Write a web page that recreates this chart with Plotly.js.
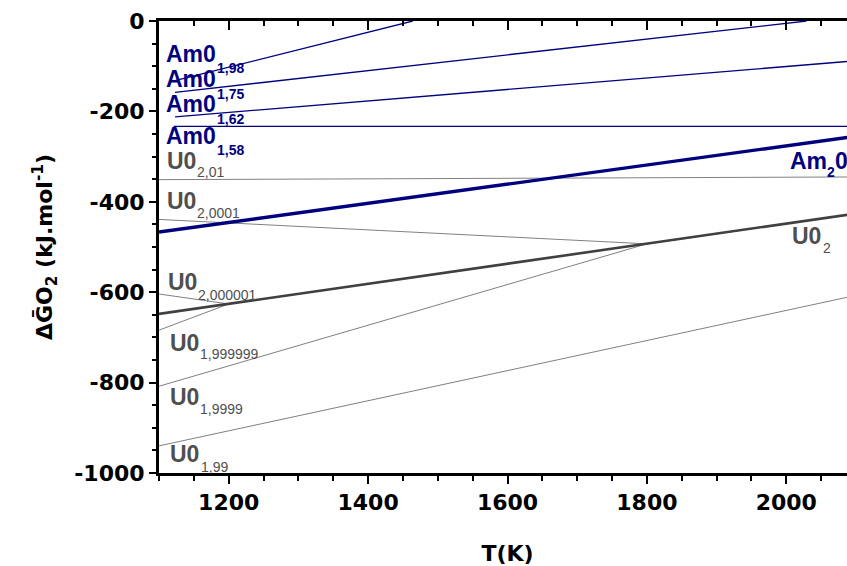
<!DOCTYPE html>
<html>
<head>
<meta charset="utf-8">
<script src="https://cdn.plot.ly/plotly-3.0.1.min.js"></script>
<style>
  html, body { margin: 0; padding: 0; overflow: hidden; background: #fff; }
  #chart { width: 870px; height: 566px; }
</style>
</head>
<body>
<div id="chart"></div>
<script>
// ---- data (T in K, Gibbs oxygen potential in kJ/mol) ----
const T_Am198 = [1123, 1464];
const G_Am198 = [-132, 0];
const T_Am175 = [1123, 2029];
const G_Am175 = [-158, 0];
const T_Am162 = [1123, 2100];
const G_Am162 = [-212, -88];
const T_Am158 = [1121, 2100];
const G_Am158 = [-233, -233];
const T_Am2O3 = [1100, 2100];
const G_Am2O3 = [-467, -255];
const T_U201 = [1100, 2100];
const G_U201 = [-351, -345];
const T_U20001 = [1100, 1800, 2100];
const G_U20001 = [-439, -493, -426];
const T_U2000001 = [1100, 1200, 2100];
const G_U2000001 = [-604, -626, -426];
const T_U1999999 = [1100, 1200, 2100];
const G_U1999999 = [-684, -626, -426];
const T_U19999 = [1100, 1800, 2100];
const G_U19999 = [-808, -493, -426];
const T_U199 = [1100, 2100];
const G_U199 = [-940, -607];
const T_UO2 = [1100, 2100];
const G_UO2 = [-648, -426];

const xTickVals = [1200, 1400, 1600, 1800, 2000];
const xTickText = ['1200', '1400', '1600', '1800', '2000'];
const yTickVals = [0, -200, -400, -600, -800, -1000];
const yTickText = ['0', '-200', '-400', '-600', '-800', '-1000'];

const xTitle = 'T(K)';
const yTitle = '\u0394\u1E20O<sub>2</sub> (kJ.mol<sup>-1</sup>)';

// ---- styles ----
const NAVY = '#00007f';
const GRAY = '#808080';
const DARK = '#404040';
const LABGRAY = '#4f4f4f';

function line(x, y, color, width) {
  return { x: x, y: y, type: 'scatter', mode: 'lines', showlegend: false,
           hoverinfo: 'skip', line: { color: color, width: width } };
}

const traces = [
  line(T_U201, G_U201, GRAY, 1),
  line(T_U20001, G_U20001, GRAY, 1),
  line(T_U2000001, G_U2000001, GRAY, 1),
  line(T_U1999999, G_U1999999, GRAY, 1),
  line(T_U19999, G_U19999, GRAY, 1),
  line(T_U199, G_U199, GRAY, 1),
  line(T_Am198, G_Am198, NAVY, 1.3),
  line(T_Am175, G_Am175, NAVY, 1.3),
  line(T_Am162, G_Am162, NAVY, 1.3),
  line(T_Am158, G_Am158, NAVY, 1.3),
  line(T_UO2, G_UO2, DARK, 2.6),
  line(T_Am2O3, G_Am2O3, NAVY, 3.4),
  { x: [], y: [], xaxis: 'x2', yaxis: 'y2', type: 'scatter', showlegend: false }
];

// ---- geometry ----
const W = 870, H = 566;
const ML = 159, MT = 21, PW = 697, PH = 452;
const MR = W - ML - PW, MB = H - MT - PH;
function px(xp) { return (xp - ML) / PW; }
function py(yp) { return 1 - (yp - MT) / PH; }

const LABFONT = 'Liberation Sans, Arial, sans-serif';
// main label parts: text, left x, cap-top y (pixels), colour
const mainLabels = [
  ['<b>Am0</b>', 165, 45, NAVY], ['<b>Am0</b>', 165, 70, NAVY],
  ['<b>Am0</b>', 165, 95, NAVY], ['<b>Am0</b>', 165, 127, NAVY],
  ['<b>U0</b>', 166, 152, LABGRAY], ['<b>U0</b>', 166, 192, LABGRAY],
  ['<b>U0</b>', 167, 273, LABGRAY], ['<b>U0</b>', 169, 334, LABGRAY],
  ['<b>U0</b>', 169, 388, LABGRAY], ['<b>U0</b>', 169, 445, LABGRAY],
  ['<b>Am</b>', 789, 152, NAVY], ['<b>0</b>', 834, 152, NAVY],
  ['<b>U0</b>', 791, 227, LABGRAY]
];
// subscript parts: text, left x, digit-top y (pixels), colour, bold
const subLabels = [
  ['1,98', 216, 62, NAVY, true], ['1,75', 216, 88, NAVY, true],
  ['1,62', 216, 113, NAVY, true], ['1,58', 216, 144, NAVY, true],
  ['2,01', 196, 166, LABGRAY, false], ['2,0001', 196, 207, LABGRAY, false],
  ['2,000001', 197, 289, LABGRAY, false], ['1,999999', 199, 348, LABGRAY, false],
  ['1,9999', 199, 403, LABGRAY, false], ['1,99', 200, 461, LABGRAY, false],
  ['2', 826, 166, NAVY, true], ['2', 822, 242, LABGRAY, false]
];

const annotations = [];
mainLabels.forEach(l => annotations.push({
  text: l[0], xref: 'paper', yref: 'paper', x: px(l[1]), y: py(l[2] - 5),
  xanchor: 'left', yanchor: 'top', showarrow: false, borderpad: 0,
  font: { family: LABFONT, size: 23, color: l[3] }
}));
subLabels.forEach(l => annotations.push({
  text: l[4] ? '<b>' + l[0] + '</b>' : l[0], xref: 'paper', yref: 'paper',
  x: px(l[1]), y: py(l[2] - 3),
  xanchor: 'left', yanchor: 'top', showarrow: false, borderpad: 0,
  font: { family: LABFONT, size: 14, color: l[3] }
}));

const tickFont = { family: 'DejaVu Sans, sans-serif', size: 22, color: '#000', weight: 'bold' };
const titleFont = { family: 'DejaVu Sans, sans-serif', size: 22, color: '#000', weight: 'bold' };

const baseX = {
  range: [1100, 2100], showgrid: false, zeroline: false,
  showline: true, linecolor: '#000', linewidth: 3, tickcolor: '#000', tickwidth: 2
};
const baseY = {
  range: [-1000, 0], showgrid: false, zeroline: false,
  showline: true, linecolor: '#000', linewidth: 3, tickcolor: '#000', tickwidth: 2
};

const layout = {
  width: W, height: H,
  margin: { l: ML, r: MR, t: MT, b: MB },
  paper_bgcolor: '#fff', plot_bgcolor: '#fff',
  showlegend: false,
  xaxis: Object.assign({}, baseX, {
    tickmode: 'array', tickvals: xTickVals, ticktext: xTickText,
    ticks: 'outside', ticklen: 8,
    minor: { tickmode: 'linear', tick0: 1100, dtick: 50, ticks: 'outside', ticklen: 5, tickwidth: 2, tickcolor: '#000' },
    tickfont: tickFont,
    title: { text: xTitle, font: titleFont, standoff: 32 }
  }),
  xaxis2: Object.assign({}, baseX, {
    overlaying: 'x', side: 'top', anchor: 'y',
    tickmode: 'array', tickvals: xTickVals,
    ticks: 'inside', ticklen: 9, showticklabels: false,
    minor: { tickmode: 'linear', tick0: 1100, dtick: 50, ticks: 'inside', ticklen: 5, tickwidth: 2, tickcolor: '#000' }
  }),
  yaxis: Object.assign({}, baseY, {
    tickmode: 'array', tickvals: yTickVals, ticktext: yTickText,
    ticks: 'outside', ticklen: 7,
    minor: { tickmode: 'linear', tick0: 0, dtick: 50, ticks: 'outside', ticklen: 4, tickwidth: 2, tickcolor: '#000' },
    tickfont: tickFont,
    title: { text: yTitle, font: titleFont, standoff: 16 }
  }),
  yaxis2: Object.assign({}, baseY, {
    overlaying: 'y', side: 'right', anchor: 'x',
    tickmode: 'array', tickvals: yTickVals,
    ticks: 'inside', ticklen: 9, showticklabels: false,
    minor: { tickmode: 'linear', tick0: 0, dtick: 50, ticks: 'inside', ticklen: 5, tickwidth: 2, tickcolor: '#000' }
  }),
  annotations: annotations
};

Plotly.newPlot('chart', traces, layout, { staticPlot: true, displayModeBar: false });
</script>
</body>
</html>
